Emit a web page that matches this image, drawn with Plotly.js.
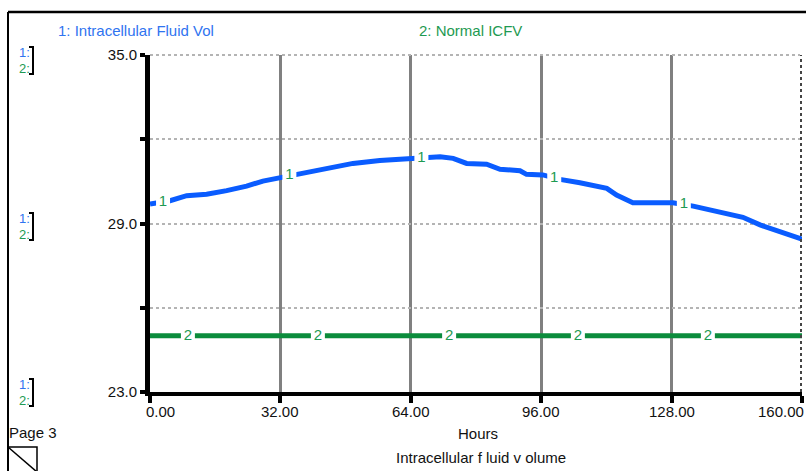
<!DOCTYPE html>
<html><head><meta charset="utf-8">
<script src="https://cdn.plot.ly/plotly-3.0.1.min.js"></script>
<style>html,body{margin:0;padding:0;background:#fff;}#chart{width:806px;height:471px;}</style>
</head><body><div id="chart"></div>
<script>
// ---- data ----
const hours = [0, 4.9, 9.0, 13.9, 18.8, 23.7, 27.7, 31.9, 36.8, 43.4, 49.8, 56.4, 63.0, 64.5, 71.2, 74.4, 77.7, 82.6, 85.9, 90.8, 92.4, 96.4, 100.6, 105.5, 112.1, 114.5, 118.5, 125.2, 128.3, 133.3, 139.9, 145.5, 149.7, 154.6, 159.5, 160];
const icfv = [29.69, 29.81, 29.99, 30.04, 30.17, 30.33, 30.51, 30.63, 30.79, 30.97, 31.14, 31.24, 31.30, 31.32, 31.38, 31.32, 31.14, 31.11, 30.93, 30.88, 30.75, 30.73, 30.57, 30.45, 30.25, 30.01, 29.74, 29.74, 29.74, 29.62, 29.42, 29.22, 28.95, 28.71, 28.47, 28.44];
const normalHours = [0, 160];
const normalIcfv = [25.0, 25.0];
const label1Hours = [3.2, 34.2, 66.6, 99.2, 131.0];
const label2Hours = [9.3, 41.2, 73.4, 105.0, 136.9];
const xTickVals = [0, 32, 64, 96, 128, 160];
const xTickText = ['0.00', '32.00', '64.00', '96.00', '128.00', '160.00'];
const yTickVals = [23, 26, 29, 32, 35];
const yTickText = ['23.0', '', '29.0', '', '35.0'];
const series1Name = '1: Intracellular Fluid Vol';
const series2Name = '2: Normal ICFV';
const xTitle = 'Hours';
const chartCaption = 'Intracellular f luid v olume';

const BLUE = '#0a5cff', GREEN = '#0b8c3c', LBLUE = '#2f74f0', LGREEN = '#1e9a52';
function interp(xs, ys, x) {
  for (let i = 0; i < xs.length - 1; i++) {
    if (x >= xs[i] && x <= xs[i+1]) return ys[i] + (ys[i+1]-ys[i])*(x-xs[i])/(xs[i+1]-xs[i]);
  }
  return ys[ys.length-1];
}
// pixel -> paper helpers (plot area: x 150..802, y 55..392)
const PX = p => (p - 150) / 652;
const PY = p => (392 - p) / 337;

const labelFont = {family: 'Liberation Sans, Arial', size: 15, color: LGREEN};
const traces = [
  {x: normalHours, y: normalIcfv, mode: 'lines', line: {color: GREEN, width: 5}, hoverinfo: 'skip'},
  {x: hours, y: icfv, mode: 'lines', line: {color: BLUE, width: 5}, hoverinfo: 'skip'},
  {x: label1Hours, y: label1Hours.map(h => interp(hours, icfv, h)), mode: 'markers+text', text: label1Hours.map(() => '1'),
   textposition: 'middle center', textfont: labelFont,
   marker: {symbol: 'square', size: 14, color: '#fff'}, hoverinfo: 'skip'},
  {x: label2Hours, y: label2Hours.map(h => interp(normalHours, normalIcfv, h)), mode: 'markers+text', text: label2Hours.map(() => '2'),
   textposition: 'middle center', textfont: labelFont,
   marker: {symbol: 'square', size: 14, color: '#fff'}, hoverinfo: 'skip'}
];

const font = {family: 'Liberation Sans, Arial, sans-serif', size: 15, color: '#111'};
const annotations = [];
xTickVals.forEach((v, i) => {
  let xa = 'center', shift = 0;
  if (i === 0) shift = 10;
  if (i === xTickVals.length - 1) { xa = 'right'; shift = 4; }
  annotations.push({x: v, xref: 'x', y: PY(411), yref: 'paper', text: xTickText[i], showarrow: false, xanchor: xa, xshift: shift, yanchor: 'middle', font: font});
});
annotations.push({x: PX(478), xref: 'paper', y: PY(433), yref: 'paper', text: xTitle, showarrow: false, xanchor: 'center', yanchor: 'middle', font: font});
annotations.push({x: PX(481), xref: 'paper', y: PY(457), yref: 'paper', text: chartCaption, showarrow: false, xanchor: 'center', yanchor: 'middle', font: font});
annotations.push({x: PX(56), xref: 'paper', y: PY(31), yref: 'paper', text: series1Name, showarrow: false, xanchor: 'left', yanchor: 'middle', font: {...font, color: LBLUE}});
annotations.push({x: PX(417), xref: 'paper', y: PY(31), yref: 'paper', text: series2Name, showarrow: false, xanchor: 'left', yanchor: 'middle', font: {...font, color: LGREEN}});
annotations.push({x: PX(7), xref: 'paper', y: PY(432), yref: 'paper', text: 'Page 3', showarrow: false, xanchor: 'left', yanchor: 'middle', font: font});
const bracketYs = [52, 218, 384];
const shapes = [];
const small = {...font, size: 13};
bracketYs.forEach(by => {
  annotations.push({x: PX(31), xref: 'paper', y: PY(by), yref: 'paper', text: '1:', showarrow: false, xanchor: 'right', yanchor: 'middle', borderpad: 0, font: {...small, color: LBLUE}});
  annotations.push({x: PX(31), xref: 'paper', y: PY(by + 16), yref: 'paper', text: '2:', showarrow: false, xanchor: 'right', yanchor: 'middle', borderpad: 0, font: {...small, color: LGREEN}});
  shapes.push({type: 'path', xref: 'paper', yref: 'paper', line: {color: '#000', width: 2},
    path: `M ${PX(29)} ${PY(by-5)} L ${PX(33)} ${PY(by-5)} L ${PX(33)} ${PY(by+22)} L ${PX(29)} ${PY(by+22)}`});
});
// outer frame lines
shapes.push({type: 'line', xref: 'paper', yref: 'paper', x0: PX(8), x1: PX(806), y0: PY(12), y1: PY(12), line: {color: '#000', width: 2.5}});
shapes.push({type: 'line', xref: 'paper', yref: 'paper', x0: PX(8), x1: PX(8), y0: PY(12), y1: PY(471), line: {color: '#000', width: 2}});
shapes.push({type: 'rect', xref: 'paper', yref: 'paper', x0: PX(8), x1: PX(37), y0: PY(447), y1: PY(472), line: {color: '#000', width: 1.5}});
shapes.push({type: 'line', xref: 'paper', yref: 'paper', x0: PX(8), x1: PX(37), y0: PY(447), y1: PY(472), line: {color: '#000', width: 1.5}});
// top dotted grid and right dashed edge
shapes.push({type: 'line', xref: 'paper', yref: 'paper', x0: 0, x1: PX(800), y0: 1, y1: 1, line: {color: '#b4b4b4', width: 2, dash: 'dot'}});
shapes.push({type: 'line', xref: 'paper', yref: 'paper', x0: PX(801), x1: PX(801), y0: 0, y1: 1, line: {color: '#444', width: 2, dash: 'dot'}});

const layout = {
  width: 806, height: 471,
  margin: {l: 150, r: 4, t: 55, b: 79},
  paper_bgcolor: '#fff', plot_bgcolor: '#fff',
  showlegend: false,
  font: font,
  xaxis: {range: [0, 160], tickvals: xTickVals, showticklabels: false,
    ticks: 'outside', ticklen: 7, tickwidth: 4, tickcolor: '#000',
    showgrid: true, gridcolor: '#808080', gridwidth: 3,
    showline: true, linecolor: '#000', linewidth: 4, zeroline: false},
  yaxis: {range: [23, 35], tickvals: yTickVals, ticktext: yTickText,
    ticks: 'outside', ticklen: 5, tickwidth: 4, tickcolor: '#000', ticklabelstandoff: 0,
    showgrid: true, gridcolor: '#b4b4b4', gridwidth: 2, griddash: 'dot',
    showline: true, linecolor: '#000', linewidth: 5, zeroline: false, tickfont: font},
  annotations: annotations,
  shapes: shapes
};
Plotly.newPlot('chart', traces, layout, {staticPlot: true, displayModeBar: false});
</script></body></html>
